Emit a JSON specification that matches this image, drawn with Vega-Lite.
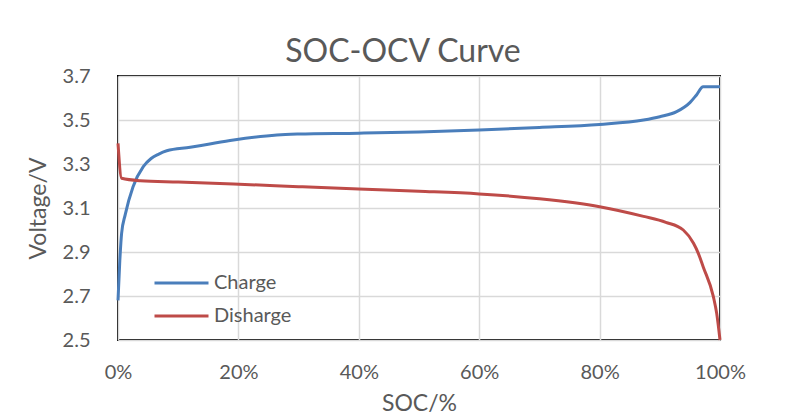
{
  "$schema": "https://vega.github.io/schema/vega-lite/v6.json",
  "autosize": {"type": "none"},
  "width": 602,
  "height": 264,
  "padding": {"left": 118, "top": 76, "right": 69, "bottom": 79},
  "background": "white",
  "title": {
    "text": "SOC-OCV Curve",
    "font": "Lato",
    "fontSize": 32,
    "fontWeight": "normal",
    "color": "#595959",
    "anchor": "middle",
    "dx": -16,
    "offset": -3
  },
  "config": {
    "view": {"stroke": "black", "strokeWidth": 2},
    "font": "Lato",
    "axis": {
      "domain": false,
      "ticks": false,
      "gridColor": "#D9D9D9",
      "gridWidth": 1.5,
      "labelFont": "Lato",
      "labelFontSize": 20,
      "labelColor": "#595959",
      "labelFlush": false,
      "titleFont": "Lato",
      "titleFontSize": 23,
      "titleFontWeight": "normal",
      "titleColor": "#595959"
    }
  },
  "data": {
    "values": [
      {"soc": 0, "v": 2.68, "series": "Charge"},
      {"soc": 0.003, "v": 2.86, "series": "Charge"},
      {"soc": 0.006, "v": 2.985, "series": "Charge"},
      {"soc": 0.012, "v": 3.07, "series": "Charge"},
      {"soc": 0.025, "v": 3.197, "series": "Charge"},
      {"soc": 0.042, "v": 3.288, "series": "Charge"},
      {"soc": 0.055, "v": 3.325, "series": "Charge"},
      {"soc": 0.067, "v": 3.344, "series": "Charge"},
      {"soc": 0.081, "v": 3.36, "series": "Charge"},
      {"soc": 0.12, "v": 3.376, "series": "Charge"},
      {"soc": 0.15, "v": 3.39, "series": "Charge"},
      {"soc": 0.192, "v": 3.409, "series": "Charge"},
      {"soc": 0.264, "v": 3.432, "series": "Charge"},
      {"soc": 0.3, "v": 3.436, "series": "Charge"},
      {"soc": 0.4, "v": 3.44, "series": "Charge"},
      {"soc": 0.5, "v": 3.446, "series": "Charge"},
      {"soc": 0.6, "v": 3.455, "series": "Charge"},
      {"soc": 0.7, "v": 3.466, "series": "Charge"},
      {"soc": 0.8, "v": 3.48, "series": "Charge"},
      {"soc": 0.873, "v": 3.5, "series": "Charge"},
      {"soc": 0.9, "v": 3.515, "series": "Charge"},
      {"soc": 0.928, "v": 3.538, "series": "Charge"},
      {"soc": 0.95, "v": 3.579, "series": "Charge"},
      {"soc": 0.961, "v": 3.614, "series": "Charge"},
      {"soc": 0.972, "v": 3.651, "series": "Charge"},
      {"soc": 1.0, "v": 3.651, "series": "Charge"},
      {"soc": 0, "v": 3.394, "series": "Disharge"},
      {"soc": 0.006, "v": 3.235, "series": "Disharge"},
      {"soc": 0.037, "v": 3.224, "series": "Disharge"},
      {"soc": 0.1, "v": 3.218, "series": "Disharge"},
      {"soc": 0.192, "v": 3.209, "series": "Disharge"},
      {"soc": 0.3, "v": 3.197, "series": "Disharge"},
      {"soc": 0.4, "v": 3.186, "series": "Disharge"},
      {"soc": 0.5, "v": 3.176, "series": "Disharge"},
      {"soc": 0.6, "v": 3.164, "series": "Disharge"},
      {"soc": 0.7, "v": 3.142, "series": "Disharge"},
      {"soc": 0.8, "v": 3.106, "series": "Disharge"},
      {"soc": 0.873, "v": 3.062, "series": "Disharge"},
      {"soc": 0.91, "v": 3.035, "series": "Disharge"},
      {"soc": 0.939, "v": 3.0, "series": "Disharge"},
      {"soc": 0.956, "v": 2.94, "series": "Disharge"},
      {"soc": 0.964, "v": 2.894, "series": "Disharge"},
      {"soc": 0.972, "v": 2.833, "series": "Disharge"},
      {"soc": 0.989, "v": 2.697, "series": "Disharge"},
      {"soc": 0.9945, "v": 2.621, "series": "Disharge"},
      {"soc": 1.0, "v": 2.5, "series": "Disharge"}
    ]
  },
  "mark": {"type": "line", "interpolate": "monotone", "strokeWidth": 3, "clip": false},
  "encoding": {
    "x": {
      "field": "soc",
      "type": "quantitative",
      "scale": {"domain": [0, 1], "nice": false},
      "axis": {"values": [0, 0.2, 0.4, 0.6, 0.8, 1], "format": ".0%", "labelPadding": 22, "title": "SOC/%", "titlePadding": 10}
    },
    "y": {
      "field": "v",
      "type": "quantitative",
      "scale": {"domain": [2.5, 3.7], "nice": false, "zero": false},
      "axis": {"values": [2.5, 2.7, 2.9, 3.1, 3.3, 3.5, 3.7], "format": ".1f", "labelPadding": 28, "title": "Voltage/V", "titlePadding": 12}
    },
    "color": {
      "field": "series",
      "type": "nominal",
      "scale": {"domain": ["Charge", "Disharge"], "range": ["#4A7EBB", "#BE4B48"]},
      "legend": {
        "title": null,
        "orient": "none",
        "legendX": 35,
        "legendY": 196,
        "symbolType": "stroke",
        "symbolSize": 2916,
        "symbolStrokeWidth": 3,
        "clipHeight": 22,
        "rowPadding": 11,
        "labelOffset": 4,
        "labelFont": "Lato",
        "labelFontSize": 20,
        "labelColor": "#595959"
      }
    }
  }
}
